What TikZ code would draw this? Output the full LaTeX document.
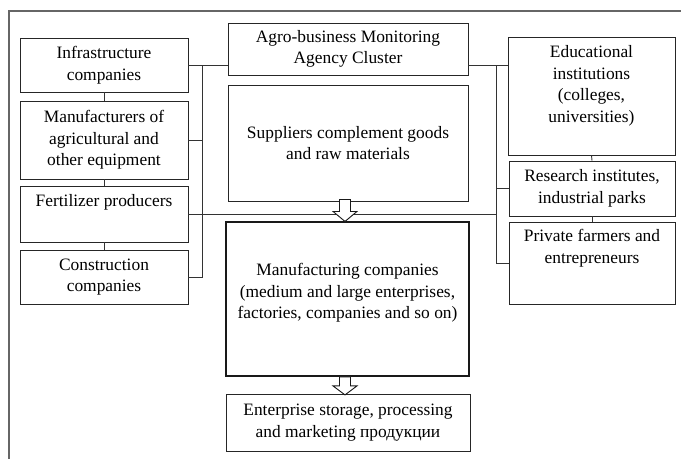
\documentclass[tikz,border=0pt]{standalone}
\usepackage{fontspec}
\setmainfont{Liberation Serif}
\begin{document}
\begin{tikzpicture}[x=1pt,y=-1pt,
  box/.style={draw=black!85, line width=0.9pt, rectangle, inner sep=0pt, align=center,
    font=\fontsize{17.4}{21.5}\selectfont, text=black},
  boldbox/.style={box, line width=1.8pt, draw=black!90},
  txt/.style={align=center, font=\fontsize{17.4}{21.5}\selectfont, text=black, inner sep=0pt},
  wire/.style={draw=black!80, line width=0.9pt},
  frame/.style={draw=black!60, line width=1.3pt},
  pics/barrow/.style 2 args={code={
    \draw[black!90, line width=0.9pt, fill=white]
      (-5.5,0) -- (-5.5,#1) -- (-12,#1) -- (0,#2) -- (12,#1) -- (5.5,#1) -- (5.5,0) -- cycle;}}
]
\useasboundingbox (0,0) rectangle (681,459);
\draw[frame] (681,11) -- (9,11) -- (9,459);

% left column
\node[box, minimum width=168pt, minimum height=54pt] (inf) at (104,65) {Infrastructure\\companies};
\node[box, minimum width=168pt, minimum height=78pt] (man) at (104,140) {Manufacturers of\\agricultural and\\other equipment};
\node[box, minimum width=168pt, minimum height=56pt] (fert) at (104,214) {};
\node[txt] (fertT) at ([yshift=12pt]fert.center) {Fertilizer producers};
\node[box, minimum width=168pt, minimum height=54pt] (con) at (104,277) {Construction\\companies};

% centre column
\node[box, minimum width=240pt, minimum height=52pt] (agro) at (348,49) {Agro-business Monitoring\\Agency Cluster};
\node[box, minimum width=240pt, minimum height=116pt] (sup) at (348,143) {Suppliers complement goods\\and raw materials};
\node[boldbox, minimum width=243pt, minimum height=154pt] (mfg) at (347.5,299) {};
\node[txt] (mfgT) at ([yshift=6pt]mfg.center) {Manufacturing companies\\(medium and large enterprises,\\factories, companies and so on)};
\node[box, minimum width=244pt, minimum height=57pt] (ent) at (348,422.5) {Enterprise storage, processing\\and marketing продукции};

% right column
\node[box, minimum width=167pt, minimum height=118pt] (edu) at (591.5,96) {};
\node[txt] (eduT) at ([yshift=10pt]edu.center) {Educational\\institutions\\(colleges,\\universities)};
\node[box, minimum width=166pt, minimum height=55pt] (res) at (592,188.5) {Research institutes,\\industrial parks};
\node[box, minimum width=166pt, minimum height=82pt] (priv) at (592,263) {};
\node[txt] (privT) at ([yshift=15pt]priv.center) {Private farmers and\\entrepreneurs};

% buses
\coordinate (lbt) at ([xshift=14pt]inf.east);
\coordinate (rbt) at ([xshift=28pt]agro.east |- inf.east);

% left connectors
\draw[wire] (inf.south) -- (man.north);
\draw[wire] (man.south) -- (fert.north);
\draw[wire] (fert.south) -- (con.north);
\draw[wire] (inf.east) -- (inf.east -| agro.west);
\draw[wire] (lbt) -- (lbt |- con.east) -- (con.east);
\draw[wire] (man.east) -- (man.east -| lbt);
\draw[wire] (fert.east) -- (fert.east -| rbt);

% right connectors
\draw[wire] (edu.south) -- (res.north);
\draw[wire] (res.south) -- (priv.north);
\draw[wire] (rbt -| agro.east) -- (rbt -| edu.west);
\draw[wire] (rbt) -- (rbt |- priv.west) -- (priv.west);
\draw[wire] (res.west) -- (res.west -| rbt);

% block arrows
\path ([xshift=-3pt,yshift=2pt]sup.south) pic {barrow={12}{22}};
\path ([xshift=-2.5pt]mfg.south) pic {barrow={9}{18}};
\end{tikzpicture}
\end{document}
